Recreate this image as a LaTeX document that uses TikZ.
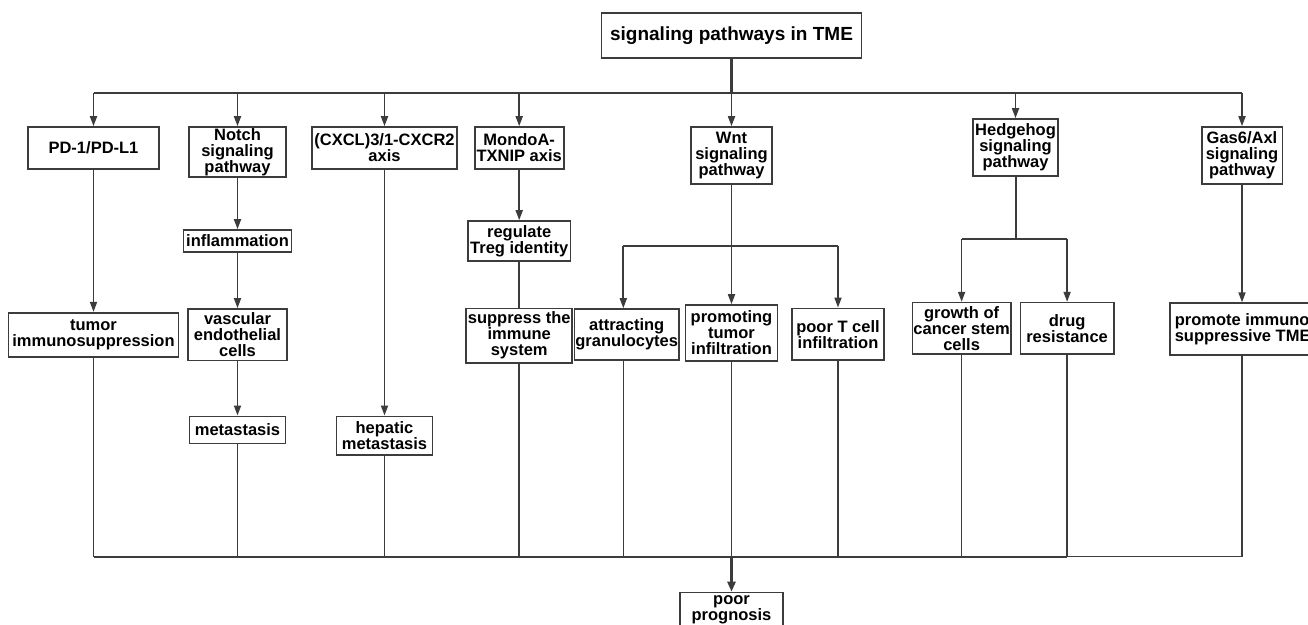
\documentclass[tikz,border=0pt]{standalone}
\usepackage{fontspec}
\setmainfont{Liberation Sans}
\usetikzlibrary{arrows.meta}
\definecolor{lc}{HTML}{3C3C3C}
\tikzset{
  box/.style={draw=lc, line width=1.6pt, inner sep=1pt, align=center,
    font=\bfseries\fontsize{16.5}{16}\selectfont, fill=white},
  ln/.style={draw=lc, line width=1.7pt},
  arr/.style={ln, -{Triangle[length=10pt,width=7pt]}},
  trunk/.style={draw=lc, line width=2.4pt},
}
\begin{document}
\begin{tikzpicture}[x=1pt,y=-1pt]
\useasboundingbox (0,0) rectangle (1308,624);
\clip (0,0) rectangle (1308,624);
% root
\node[box, font=\bfseries\fontsize{19}{20}\selectfont, minimum width=260pt, minimum height=45pt] (root) at (731.5,35.2) {signaling pathways in TME};
% row 1
\node[box, minimum width=131pt, minimum height=42pt] (pd1) at (93.5,148) {PD-1/PD-L1};
\node[box, minimum width=97pt, minimum height=50pt] (notch) at (237.5,152) {Notch\\signaling\\pathway};
\node[box, minimum width=145pt, minimum height=42pt] (cxcl) at (384.5,148) {(CXCL)3/1-CXCR2\\axis};
\node[box, minimum width=89pt, minimum height=42pt] (mondo) at (519.2,148) {MondoA-\\TXNIP axis};
\node[box, minimum width=80.7pt, minimum height=57pt] (wnt) at (731.5,155.5) {Wnt\\signaling\\pathway};
\node[box, minimum width=85.3pt, minimum height=57pt] (hedge) at (1015.5,147.5) {Hedgehog\\signaling\\pathway};
\node[box, minimum width=80.6pt, minimum height=57pt] (gas6) at (1242,155.5) {Gas6/Axl\\signaling\\pathway};
% row 2
\node[box, minimum width=108pt, minimum height=22pt] (inflam) at (237.5,241) {inflammation};
\node[box, minimum width=102.7pt, minimum height=40pt] (treg) at (519.2,241) {regulate\\Treg identity};
% row 3
\node[box, minimum width=170pt, minimum height=44pt] (tumor) at (93.5,334.7) {tumor\\immunosuppression};
\node[box, minimum width=98.6pt, minimum height=51.7pt] (vasc) at (237.5,334.8) {vascular\\endothelial\\cells};
\node[box, minimum width=106pt, minimum height=54.7pt] (supp) at (519.2,335.7) {suppress the\\immune\\system};
\node[box, minimum width=104.5pt, minimum height=51pt] (attr) at (626.7,334.5) {attracting\\granulocytes};
\node[box, minimum width=92.3pt, minimum height=56pt] (promo) at (731.5,333) {promoting\\tumor\\infiltration};
\node[box, minimum width=92.4pt, minimum height=51.7pt] (poort) at (838,334.2) {poor T cell\\infiltration};
\node[box, minimum width=98.6pt, minimum height=51.3pt] (growth) at (961.6,328.3) {growth of\\cancer stem\\cells};
\node[box, minimum width=93.2pt, minimum height=51.3pt] (drug) at (1067.1,328.3) {drug\\resistance};
\node[box, anchor=west, inner xsep=5pt, align=left, minimum height=51.7pt] (promote) at (1169,329) {promote immuno\\suppressive TME};
% row 4
\node[box, minimum width=96pt, minimum height=27pt] (metas) at (237.5,429.8) {metastasis};
\node[box, minimum width=96pt, minimum height=38.4pt] (hep) at (384.5,435.5) {hepatic\\metastasis};
% bottom
\node[box, anchor=north, minimum width=103.2pt, minimum height=35pt] (poor) at (731.5,591.7) {poor\\prognosis};
% coordinates
\coordinate (b1) at (731.5,92.7);
\coordinate (b2) at (731.5,556.7);
\coordinate (wb) at (731.5,246);
\coordinate (hb) at (1015.5,238.7);
% top distribution
\draw[trunk] (root.south) -- (b1);
\draw[ln] (pd1.north |- b1) -- (gas6.north |- b1);
\foreach \n in {pd1,notch,cxcl,mondo,wnt,hedge,gas6}
  \draw[arr] (\n.north |- b1) -- (\n.north);
% chains
\draw[arr] (pd1.south) -- (tumor.north);
\draw[arr] (notch.south) -- (inflam.north);
\draw[arr] (inflam.south) -- (vasc.north);
\draw[arr] (vasc.south) -- (metas.north);
\draw[arr] (cxcl.south) -- (hep.north);
\draw[arr] (mondo.south) -- (treg.north);
\draw[ln] (treg.south) -- (supp.north);
% Wnt branch
\draw[ln] (wnt.south) -- (wb);
\draw[ln] ([xshift=-3.4pt]attr.north |- wb) -- (poort.north |- wb);
\draw[arr] ([xshift=-3.4pt]attr.north |- wb) -- ([xshift=-3.4pt]attr.north);
\draw[arr] (wb) -- (promo.north);
\draw[arr] (poort.north |- wb) -- (poort.north);
% Hedgehog branch
\draw[ln, line width=2pt] (hedge.south) -- (hb);
\draw[ln] (growth.north |- hb) -- (drug.north |- hb);
\draw[arr] (growth.north |- hb) -- (growth.north);
\draw[arr] (drug.north |- hb) -- (drug.north);
% Gas6
\draw[arr] (gas6.south) -- (gas6.south |- promote.north);
% to bottom bus
\foreach \n in {tumor,metas,hep,supp,promo,poort,growth,drug}
  \draw[ln, line width=1.5pt] (\n.south) -- (\n.south |- b2);
\draw[ln, line width=1.5pt] ([xshift=-3.4pt]attr.south) -- ([xshift=-3.4pt]attr.south |- b2);
\draw[ln, line width=1.5pt] (gas6.south |- promote.south) -- (gas6.south |- b2);
\draw[ln, line width=2.2pt] (tumor.south |- b2) -- (drug.south |- b2);
\draw[ln, line width=1.5pt] (drug.south |- b2) -- (gas6.south |- b2);
\draw[trunk, -{Triangle[length=10pt,width=8pt]}] (b2) -- (poor.north);
\end{tikzpicture}
\end{document}
